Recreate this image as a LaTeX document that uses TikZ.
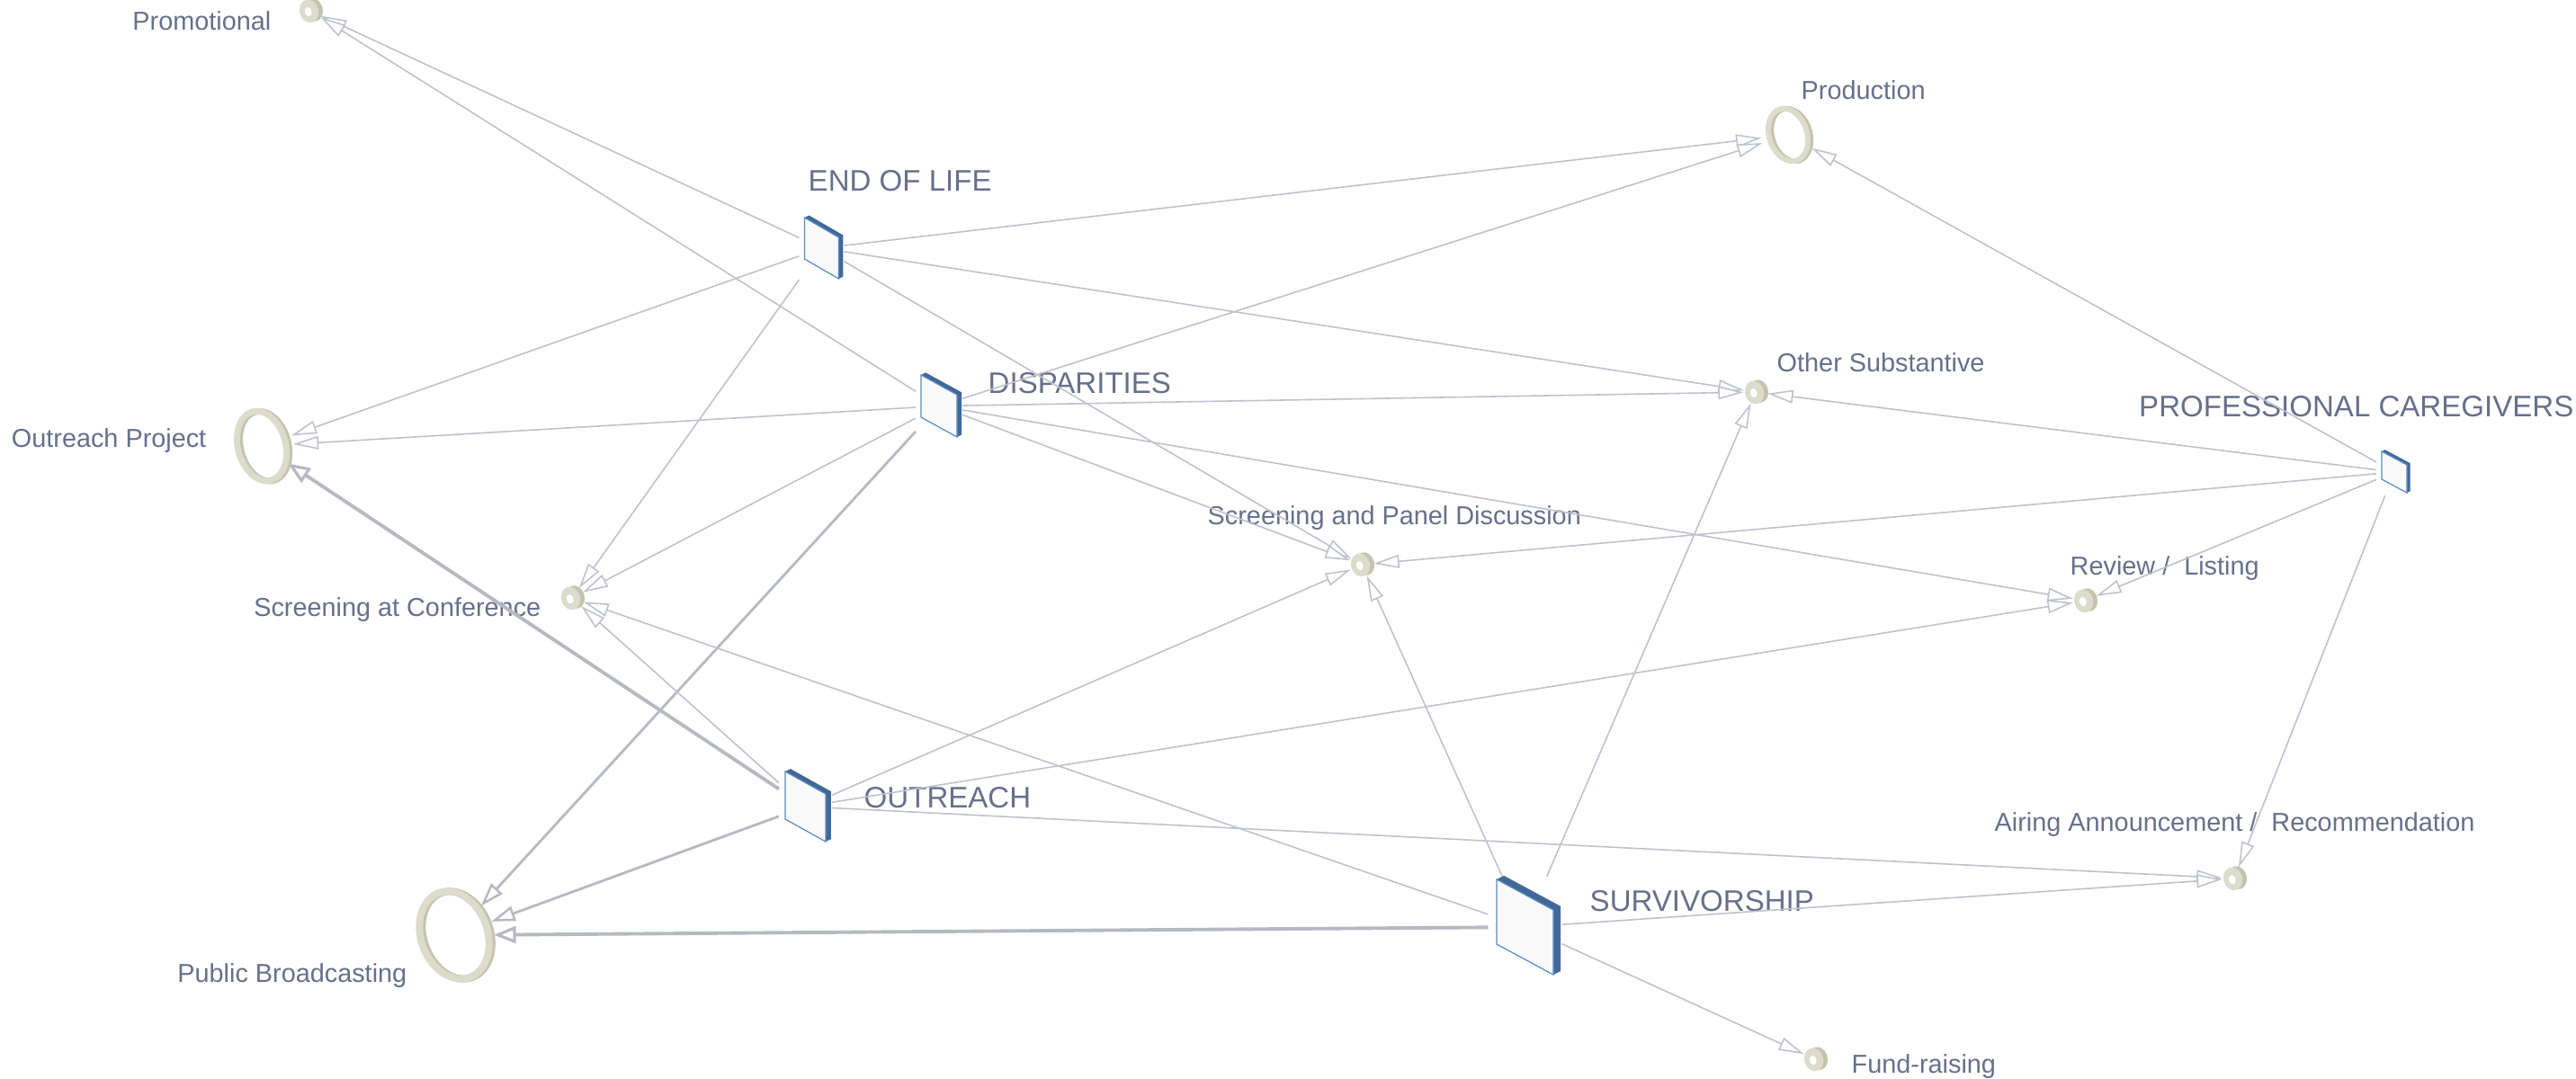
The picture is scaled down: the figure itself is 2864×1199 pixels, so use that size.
\documentclass[tikz,border=0pt]{standalone}
\usepackage{fontspec}
\setmainfont{Liberation Sans}
\usetikzlibrary{arrows.meta}
\definecolor{txt}{HTML}{66708A}
\definecolor{edgec}{HTML}{BEC2CB}
\definecolor{edgedark}{HTML}{B6B9C1}
\definecolor{slabdark}{HTML}{40699A}
\definecolor{slabline}{HTML}{5B8AC2}
\definecolor{slabface}{HTML}{FAFAFB}
\definecolor{ringlight}{HTML}{DCDCCD}
\definecolor{ringdark}{HTML}{C4C4AE}
\newcommand\slab[4]{%
 \begin{scope}[shift={(#1.center)}]
  \pgfmathsetmacro\sd{0.13*#2}
  \fill[slabdark] ({-#2/2},{-(#3+#4)/2}) -- ++(\sd,{-\sd/2}) -- ({#2/2+\sd},{-(#3+#4)/2+#4-\sd/2}) -- ({#2/2+\sd},{(#3+#4)/2-\sd/2}) -- ({#2/2},{(#3+#4)/2}) -- ({#2/2},{-(#3+#4)/2+#4}) -- cycle;
  \filldraw[fill=slabface, draw=slabline, line width=0.35pt] ({-#2/2},{-(#3+#4)/2}) -- ({#2/2},{-(#3+#4)/2+#4}) -- ({#2/2},{(#3+#4)/2}) -- ({-#2/2},{(#3+#4)/2-#4}) -- cycle;
 \end{scope}}
\newcommand\bigring[5]{%
 \begin{scope}[shift={(#1.center)}, rotate=#4]
  \fill[ringdark, even odd rule] (3,1) ellipse [x radius=#3, y radius=#2] (3,1) ellipse [x radius=#3-#5, y radius=#2-#5];
  \fill[ringlight, even odd rule] (0,0) ellipse [x radius=#3, y radius=#2] (0,0) ellipse [x radius=#3-#5, y radius=#2-#5];
 \end{scope}}
\newcommand\bead[1]{%
 \begin{scope}[shift={(#1.center)}, rotate=15]
  \fill[ringdark] (3.5,0) ellipse [x radius=10.5, y radius=13];
  \fill[ringlight] (-1.5,0) ellipse [x radius=10.5, y radius=13];
  \fill[white] (-2.5,0.5) ellipse [x radius=3.8, y radius=5.2];
 \end{scope}}
\tikzset{
 lbl/.style={text=txt, font=\fontsize{8.2}{10}\selectfont, inner sep=0pt},
 big/.style={text=txt, font=\fontsize{9.4}{11}\selectfont, inner sep=0pt},
 sqn/.style={rectangle, inner sep=0pt, outer sep=0.02cm},
 rgn/.style={circle, inner sep=0pt, outer sep=0pt},
 e/.style={draw=edgec, line width=0.45pt, -{Triangle[fill=white, length=8pt, width=4.2pt]}},
 emed/.style={draw=edgedark, line width=0.8pt, -{Triangle[fill=white, length=7.5pt, width=4.8pt, line width=0.7pt]}},
 ethick/.style={draw=edgedark, line width=1.1pt, -{Triangle[fill=white, length=7pt, width=5.4pt, line width=0.9pt]}}
}
\begin{document}
\begin{tikzpicture}[x=0.01cm, y=-0.01cm]
\useasboundingbox (0,0) rectangle (2864,1199);
% square nodes
\node[sqn, minimum width=0.46cm, minimum height=0.72cm] (eol) at (913.5,276) {};
\node[sqn, minimum width=0.48cm, minimum height=0.72cm] (dis) at (1044,451.5) {};
\node[sqn, minimum width=0.55cm, minimum height=0.80cm] (out) at (895.5,897) {};
\node[sqn, minimum width=0.78cm, minimum height=1.08cm] (sur) at (1695.5,1031) {};
\node[sqn, minimum width=0.36cm, minimum height=0.48cm] (pro) at (2662,525) {};
% ring nodes
\node[rgn, minimum size=0.70cm] (op) at (291,496) {};
\node[rgn, minimum size=0.88cm] (pb) at (505,1040) {};
\node[rgn, minimum size=0.60cm] (prod) at (1988,150) {};
\node[rgn, minimum size=0.27cm] (prom) at (345,12) {};
\node[rgn, minimum size=0.27cm] (oth) at (1952,436) {};
\node[rgn, minimum size=0.27cm] (spd) at (1514,628) {};
\node[rgn, minimum size=0.27cm] (rev) at (2318,668) {};
\node[rgn, minimum size=0.27cm] (sac) at (636,665) {};
\node[rgn, minimum size=0.27cm] (air) at (2484,977) {};
\node[rgn, minimum size=0.27cm] (fund) at (2018,1178) {};
% labels
\node[lbl, anchor=base east] (lprom) at (302,33) {Promotional};
\node[lbl, anchor=base west] (lprod) at (2002,110) {Production};
\node[big, anchor=base west] (leol) at (898,212) {END OF LIFE};
\node[big, anchor=base west] (ldis) at (1098,437) {DISPARITIES};
\node[lbl, anchor=base west] (loth) at (1975,413) {Other Substantive};
\node[big, anchor=base east] (lpro) at (2862,463) {PROFESSIONAL CAREGIVERS};
\node[lbl, anchor=base east] (lop) at (230,497) {Outreach Project};
\node[lbl, anchor=base west] (lspd) at (1342,583) {Screening and Panel Discussion};
\node[lbl, anchor=base west] (lrev) at (2301,639) {Review /\ \ Listing};
\node[lbl, anchor=base east] (lsac) at (602,685) {Screening at Conference};
\node[big, anchor=base west] (lout) at (960,898) {OUTREACH};
\node[lbl, anchor=base west] (lair) at (2217,924) {Airing Announcement /\ \ Recommendation};
\node[big, anchor=base west] (lsur) at (1767,1013) {SURVIVORSHIP};
\node[lbl, anchor=base east] (lpb) at (453,1092) {Public Broadcasting};
\node[lbl, anchor=base west] (lfund) at (2058,1193) {Fund-raising};
% edges
\draw[e] (eol) -- (prom);
\draw[e] (eol) -- (prod);
\draw[e] (eol) -- (oth);
\draw[e] (eol) -- (spd);
\draw[e] (eol) -- (op);
\draw[e] (eol) -- (sac);
\draw[e] (dis) -- (prom);
\draw[e] (dis) -- (prod);
\draw[e] (dis) -- (oth);
\draw[e] (dis) -- (op);
\draw[e] (dis) -- (sac);
\draw[e] (dis) -- (spd);
\draw[e] (dis) -- (rev);
\draw[emed] (dis) -- (pb);
\draw[e] (pro) -- (prod);
\draw[e] (pro) -- (oth);
\draw[e] (pro) -- (spd);
\draw[e] (pro) -- (rev);
\draw[e] (pro) -- (air);
\draw[ethick] (out) -- (op);
\draw[e] (out) -- (sac);
\draw[e] (out) -- (spd);
\draw[e] (out) -- (rev);
\draw[e] (out) -- (air);
\draw[emed] (out) -- (pb);
\draw[e] (sur) -- (sac);
\draw[e] (sur) -- (spd);
\draw[e] (sur) -- (oth);
\draw[e] (sur) -- (air);
\draw[e] (sur) -- (fund);
\draw[ethick] (sur) -- (pb);
% graphics
\slab{eol}{38}{46}{22}
\slab{dis}{40}{47}{22}
\slab{out}{45}{53}{25}
\slab{sur}{63}{72}{34}
\slab{pro}{28}{31}{15}
\bigring{op}{43}{30}{15}{7}
\bigring{pb}{54}{41}{20}{8}
\bigring{prod}{33}{24}{18}{6}
\bead{prom}
\bead{oth}
\bead{spd}
\bead{rev}
\bead{sac}
\bead{air}
\bead{fund}
\end{tikzpicture}
\end{document}
